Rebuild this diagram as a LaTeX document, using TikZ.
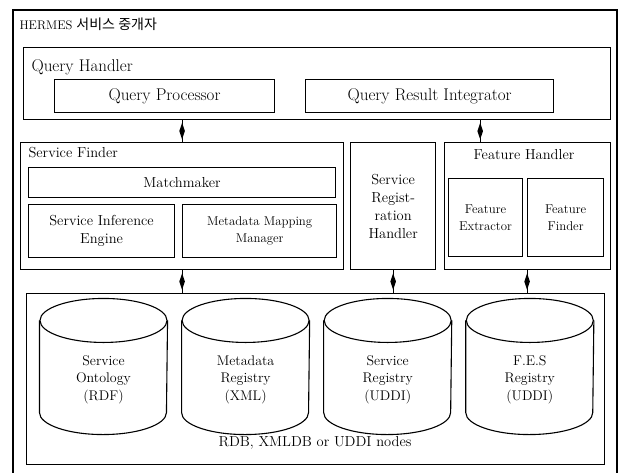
\documentclass[tikz,border=0pt]{standalone}
\usepackage{fontspec}
\newfontfamily\krfont{Noto Sans CJK KR}
\usepackage{tikz}
\usetikzlibrary{shapes,positioning}

\begin{document}
\begin{tikzpicture}[x=1pt, y=-1pt, line width=1.1pt, inner sep=0pt]

	\tikzset{
		box/.style = {rectangle, draw, anchor=north west},
		inbox/.style = {rectangle, draw, align=center},
		bigtxt/.style = {font=\fontsize{17}{20}\selectfont},
		midtxt/.style = {font=\fontsize{14.5}{18}\selectfont, align=center},
		smltxt/.style = {font=\fontsize{12.8}{17}\selectfont, align=center},
		dbase/.style = {rectangle, minimum width=127pt, minimum height=135pt},
		dbtxt/.style = {font=\fontsize{14}{17.5}\selectfont, align=center},
		link/.style = {draw, line width=1pt},
		dmd/.style = {diamond, fill=black, minimum width=6pt, minimum height=17pt}
	}

	\useasboundingbox (0,0) rectangle (624,472);

	\node[box, line width=2pt, minimum width=604pt, minimum height=470pt] (hermes) at (12,9) {};
	\node[anchor=west, font=\fontsize{12.5}{15}\selectfont] (title) at (19,24)
		{HERMES {\krfont\fontsize{14}{15}\selectfont 서비스 중개자}};

	% query handler
	\node[box, minimum width=587pt, minimum height=72pt] (qh) at (23,47) {};
	\node[bigtxt, anchor=west] (qhl) at (31,67) {Query Handler};
	\node[box, minimum width=220pt, minimum height=33pt] (qp) at (54,79) {};
	\node[bigtxt] (qpl) at (qp.center) {Query Processor};
	\node[inbox, bigtxt, minimum width=248pt, minimum height=33pt] (qri) [right = 30pt of qp] {Query Result Integrator};

	% service finder
	\node[box, minimum width=323pt, minimum height=127pt] (sf) at (20,142) {};
	\node[midtxt, anchor=west] (sfl) at (28,153) {Service Finder};
	\node[inbox, midtxt, minimum width=307pt, minimum height=30pt, anchor=north west] (mm) at (28,167) {Matchmaker};
	\node[inbox, midtxt, minimum width=146pt, minimum height=53pt]
		(sie) [below = 6pt of mm.south west, anchor=north west] {Service Inference\\Engine};
	\node[inbox, smltxt, minimum width=154pt, minimum height=53pt] (mmm) [right = 7pt of sie] {Metadata Mapping\\Manager};

	% registration + feature
	\node[inbox, midtxt, minimum width=85pt, minimum height=127pt] (srh) [right = 6pt of sf] {Service\\Regist-\\ration\\Handler};
	\node[inbox, minimum width=166pt, minimum height=127pt] (fh) [right = 8pt of srh] {};
	\node[midtxt] (fhl) at (524,155) {Feature Handler};
	\node[inbox, smltxt, minimum width=74pt, minimum height=78pt, anchor=north west] (fe) at (448,178) {Feature\\Extractor};
	\node[inbox, smltxt, minimum width=76pt, minimum height=78pt] (ff) [right = 4pt of fe] {Feature\\Finder};

	% storage nodes
	\node[box, minimum width=578pt, minimum height=171pt] (db) at (26,293) {};
	\node[dbase] (c1) at (103.5,366.5) {};
	\node[dbase] (c2) [right = 14pt of c1] {};
	\node[dbase] (c3) [right = 14pt of c2] {};
	\node[dbase] (c4) [right = 14pt of c3] {};
	\foreach \c in {c1,c2,c3,c4} {
		\draw ([yshift = -22pt]\c.north) ellipse [x radius = 63.5pt, y radius = 22pt];
		\draw ([yshift = -22pt]\c.north west) -- ([yshift = 22pt]\c.south west)
			arc [start angle = 180, delta angle = 180, x radius = 63.5pt, y radius = 22pt]
			-- ([yshift = -22pt]\c.north east);
	}
	\node[dbtxt] (t1) at ([yshift = -13pt]c1.center) {Service\\Ontology\\(RDF)};
	\node[dbtxt] (t2) at ([yshift = -13pt]c2.center) {Metadata\\Registry\\(XML)};
	\node[dbtxt] (t3) at ([yshift = -13pt]c3.center) {Service\\Registry\\(UDDI)};
	\node[dbtxt] (t4) at ([yshift = -13pt]c4.center) {F.E.S\\Registry\\(UDDI)};
	\node[midtxt] (dbl) at (315,443) {RDB, XMLDB or UDDI nodes};

	\path[link]
	(qh.south -| mmm.west) -- node[dmd] (d1) {} (sf.north -| mmm.west)
	([xshift = 36pt]fh.north west |- qh.south) -- node[dmd] (d2) {} ([xshift = 36pt]fh.north west)
	(sf.south -| mmm.west) -- node[dmd] (d3) {} (db.north -| mmm.west)
	(srh.south) -- node[dmd] (d4) {} (srh.south |- db.north)
	(fh.south -| ff.west) -- node[dmd] (d5) {} (db.north -| ff.west)
	;

\end{tikzpicture}
\end{document}
